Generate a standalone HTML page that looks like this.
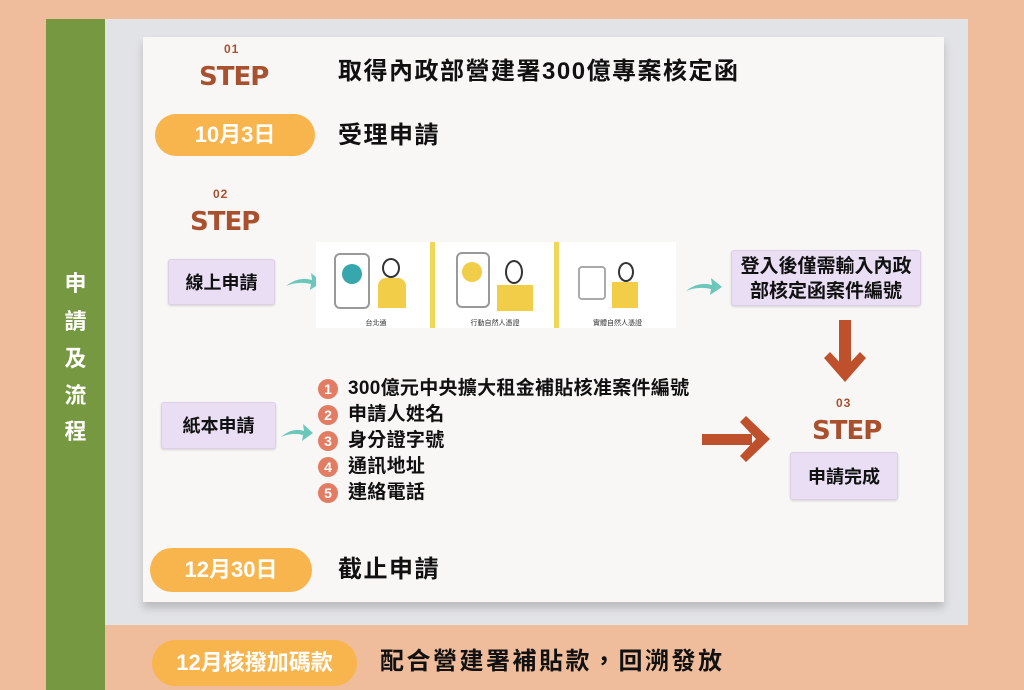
<!DOCTYPE html>
<html><head><meta charset="utf-8"><style>
*{margin:0;padding:0;box-sizing:border-box}
body{width:1024px;height:690px;background:#efbd9b;position:relative;overflow:hidden;font-family:"Liberation Sans","Noto Sans CJK TC",sans-serif;}
.a{position:absolute}
.green{left:46px;top:19px;width:59px;height:671px;background:#769840}
.gray{left:105px;top:19px;width:863px;height:606px;background:#e2e3e6}
.paper{left:143px;top:37px;width:801px;height:565px;background:#f8f7f5;box-shadow:0 6px 8px rgba(0,0,0,.18)}
.vt{left:46px;width:59px;text-align:center;color:#fff;font-size:22px;font-weight:bold}
.num{color:#a9502f;font-weight:bold;font-size:12px;letter-spacing:1px}
.step{color:#a9502f;font-weight:bold;font-size:26px;font-family:"DejaVu Sans",sans-serif;letter-spacing:-1px}
.t{font-size:24px;line-height:34px;font-weight:bold;color:#111;white-space:nowrap;letter-spacing:1.5px}
.pill{background:#f8b54e;color:#fff;border-radius:24px;text-align:center;font-size:22px;font-weight:bold}
.box{background:#e9def3;border:1px solid #dcd0e8;box-shadow:0 1px 2px rgba(0,0,0,.15);text-align:center;font-size:18px;font-weight:bold;color:#111;border-radius:3px}
.li{left:318px;font-size:19px;font-weight:bold;color:#111;white-space:nowrap;letter-spacing:0.3px}
.li span{display:inline-block;width:20px;height:20px;border-radius:50%;background:#e27d64;color:#fff;font-size:14px;text-align:center;line-height:20px;margin-right:10px;vertical-align:middle;letter-spacing:0}
</style></head><body>
<div class="a green"></div>
<div class="a gray"></div>
<div class="a paper"></div>
<div class="a vt" style="top:266px">申</div>
<div class="a vt" style="top:304px">請</div>
<div class="a vt" style="top:341px">及</div>
<div class="a vt" style="top:378px">流</div>
<div class="a vt" style="top:414px">程</div>

<div class="a num" style="left:224px;top:42px">01</div>
<div class="a step" style="left:199px;top:62px">STEP</div>
<div class="a t" style="left:338px;top:55px">取得內政部營建署300億專案核定函</div>
<div class="a pill" style="left:155px;top:114px;width:160px;height:42px;line-height:42px">10月3日</div>
<div class="a t" style="left:338px;top:119px">受理申請</div>

<div class="a num" style="left:213px;top:187px">02</div>
<div class="a step" style="left:190px;top:207px">STEP</div>
<div class="a box" style="left:168px;top:259px;width:107px;height:46px;line-height:46px">線上申請</div>
<svg class="a" style="left:284px;top:268px" width="40" height="24"><path d="M2 18 Q14 8 28 12 L27 5 L38 14 L26 22 L27 16 Q14 13 2 18Z" fill="#6cc7bb"/></svg>

<div class="a" style="left:316px;top:242px;width:360px;height:86px;background:#fff"></div>
<div class="a" style="left:430px;top:242px;width:5px;height:86px;background:#f1d65a"></div>
<div class="a" style="left:554px;top:242px;width:5px;height:86px;background:#f1d65a"></div>
<div class="a" style="left:334px;top:253px;width:36px;height:56px;border:2px solid #999;border-radius:6px"></div>
<div class="a" style="left:342px;top:264px;width:20px;height:20px;border-radius:50%;background:#37a7ae"></div>
<div class="a" style="left:378px;top:278px;width:28px;height:30px;background:#f2cd47;border-radius:8px 8px 0 0"></div>
<div class="a" style="left:382px;top:258px;width:18px;height:20px;border-radius:50%;border:2px solid #333"></div>
<div class="a" style="left:456px;top:252px;width:34px;height:56px;border:2px solid #999;border-radius:6px"></div>
<div class="a" style="left:462px;top:262px;width:20px;height:20px;border-radius:50%;background:#f2cd47"></div>
<div class="a" style="left:497px;top:285px;width:36px;height:26px;background:#f2cd47"></div>
<div class="a" style="left:505px;top:260px;width:18px;height:24px;border-radius:50%;border:2px solid #333"></div>
<div class="a" style="left:578px;top:266px;width:28px;height:34px;border:2px solid #aaa;border-radius:4px"></div>
<div class="a" style="left:612px;top:282px;width:26px;height:26px;background:#f2cd47"></div>
<div class="a" style="left:618px;top:262px;width:16px;height:20px;border-radius:50%;border:2px solid #333"></div>
<div class="a" style="left:316px;top:318px;width:120px;text-align:center;font-size:7px;color:#333">台北通</div>
<div class="a" style="left:435px;top:318px;width:120px;text-align:center;font-size:7px;color:#333">行動自然人憑證</div>
<div class="a" style="left:559px;top:318px;width:117px;text-align:center;font-size:7px;color:#333">實體自然人憑證</div>

<svg class="a" style="left:684px;top:274px" width="40" height="22"><path d="M2 17 Q14 7 28 11 L27 4 L38 13 L26 21 L27 15 Q14 12 2 17Z" fill="#6cc7bb"/></svg>
<div class="a box" style="left:731px;top:250px;width:190px;height:56px;line-height:25px;padding-top:3px;font-size:19px">登入後僅需輸入內政<br>部核定函案件編號</div>
<svg class="a" style="left:820px;top:318px" width="50" height="70"><rect x="19" y="2" width="12" height="52" fill="#bf502c"/><path d="M4 40 L25 64 L46 40 L40 34 L25 50 L10 34Z" fill="#bf502c"/></svg>
<div class="a num" style="left:836px;top:396px">03</div>
<div class="a step" style="left:812px;top:416px">STEP</div>
<div class="a box" style="left:790px;top:452px;width:108px;height:48px;line-height:48px">申請完成</div>
<svg class="a" style="left:700px;top:416px" width="72" height="48"><rect x="2" y="18" width="50" height="11" fill="#bf502c"/><path d="M40 6 L46 0 L70 23 L46 46 L40 40 L56 23Z" fill="#bf502c"/></svg>

<div class="a box" style="left:161px;top:402px;width:115px;height:47px;line-height:47px">紙本申請</div>
<svg class="a" style="left:279px;top:420px" width="36" height="22"><path d="M2 17 Q13 7 25 11 L24 4 L34 13 L23 21 L24 15 Q13 12 2 17Z" fill="#6cc7bb"/></svg>
<div class="a li" style="top:373px"><span>1</span>300億元中央擴大租金補貼核准案件編號</div>
<div class="a li" style="top:399px"><span>2</span>申請人姓名</div>
<div class="a li" style="top:425px"><span>3</span>身分證字號</div>
<div class="a li" style="top:451px"><span>4</span>通訊地址</div>
<div class="a li" style="top:477px"><span>5</span>連絡電話</div>

<div class="a pill" style="left:150px;top:548px;width:162px;height:44px;line-height:44px">12月30日</div>
<div class="a t" style="left:338px;top:553px">截止申請</div>
<div class="a pill" style="left:152px;top:640px;width:205px;height:46px;line-height:46px">12月核撥加碼款</div>
<div class="a t" style="left:380px;top:645px;letter-spacing:2.5px">配合營建署補貼款，回溯發放</div>
</body></html>
